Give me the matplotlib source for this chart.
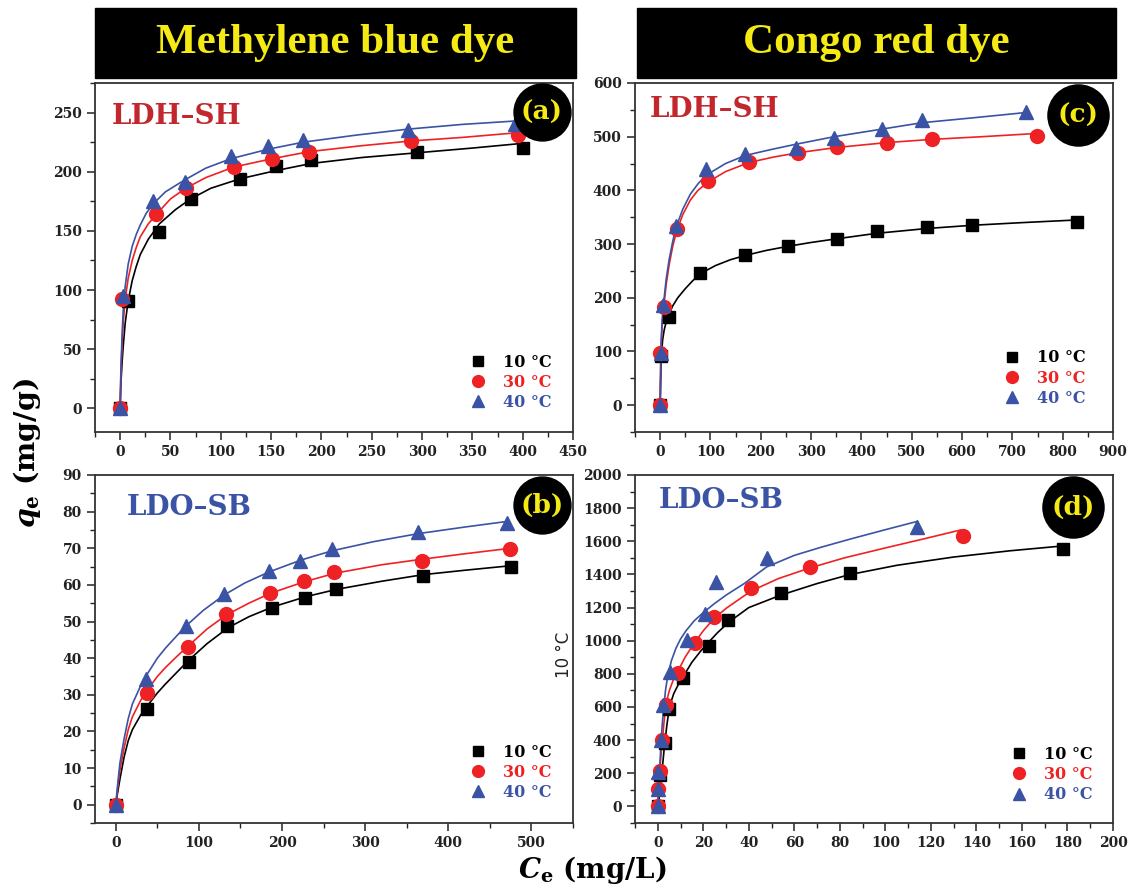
import numpy as np
import matplotlib.pyplot as plt
from matplotlib.ticker import MultipleLocator
from matplotlib.patches import Rectangle
from matplotlib.lines import Line2D

W, H = 1133, 893

temps = ["10 °C", "30 °C", "40 °C"]

# ---- (a) methylene blue, LDH-SH ----
a_x10 = [0, 8, 39, 70, 119, 155, 190, 295, 400]
a_y10 = [0, 91, 149, 177, 194, 205, 210, 217, 220]
a_x30 = [0, 2, 36, 65, 113, 151, 188, 289, 395]
a_y30 = [0, 92, 164, 186, 204, 211, 217, 226, 231]
a_x40 = [0, 3, 33, 64, 110, 147, 182, 286, 392]
a_y40 = [0, 95, 175, 191, 213, 222, 227, 235, 240]
# fitted curves
a_fx10 = [0, 0.5, 1, 2, 3, 5, 8, 12, 16, 20, 28, 39, 55, 70, 90, 119, 155, 190, 240, 295, 350, 400]
a_fy10 = [0, 15, 25, 40, 52, 72, 91, 108, 120, 130, 143, 156, 168, 177, 186, 194, 201, 207, 212, 216, 220, 224]
a_fx30 = [0, 0.5, 1, 2, 3, 5, 8, 12, 16, 20, 28, 36, 50, 65, 85, 113, 151, 188, 240, 289, 340, 395]
a_fy30 = [0, 20, 35, 56, 72, 92, 110, 125, 136, 145, 156, 164, 177, 186, 195, 204, 211, 217, 222, 226, 229, 233]
a_fx40 = [0, 0.5, 1, 2, 3, 5, 8, 12, 16, 20, 26, 33, 45, 64, 85, 110, 147, 182, 235, 286, 340, 395]
a_fy40 = [0, 24, 40, 64, 82, 103, 122, 137, 147, 155, 165, 173, 183, 193, 203, 211, 219, 225, 231, 236, 240, 243]

# ---- (c) congo red, LDH-SH ----
c_x10 = [0, 2, 18, 80, 169, 255, 352, 430, 531, 620, 829]
c_y10 = [0, 92, 165, 247, 279, 296, 310, 324, 331, 336, 341]
c_x30 = [0, 0, 8, 33, 96, 177, 273, 352, 450, 540, 748]
c_y30 = [0, 97, 182, 329, 417, 452, 469, 480, 489, 495, 502]
c_x40 = [0, 1, 5, 31, 91, 169, 270, 346, 440, 520, 727]
c_y40 = [0, 97, 187, 333, 440, 468, 479, 497, 515, 531, 546]
c_fx10 = [0, 1, 2, 3, 5, 8, 12, 17, 25, 35, 50, 65, 80, 110, 140, 170, 210, 255, 300, 352, 430, 530, 620, 720, 830]
c_fy10 = [0, 45, 80, 100, 122, 140, 155, 168, 185, 200, 217, 232, 245, 260, 271, 279, 288, 296, 303, 310, 320, 329, 335, 340, 345]
c_fx30 = [0, 1, 2, 4, 8, 12, 18, 25, 33, 45, 60, 75, 96, 130, 177, 225, 273, 352, 450, 540, 640, 748]
c_fy30 = [0, 65, 110, 150, 190, 225, 262, 296, 325, 355, 382, 400, 416, 435, 452, 462, 470, 480, 489, 495, 500, 506]
c_fx40 = [0, 1, 2, 4, 8, 12, 18, 25, 31, 45, 60, 75, 91, 130, 169, 220, 270, 346, 440, 520, 620, 727]
c_fy40 = [0, 75, 120, 160, 200, 235, 272, 305, 330, 365, 393, 412, 428, 450, 465, 476, 486, 500, 514, 526, 535, 545]

# ---- (b) methylene blue, LDO-SB ----
b_x10 = [0, 38, 88, 134, 188, 228, 265, 370, 476]
b_y10 = [0, 26, 39, 48.7, 53.6, 56.4, 58.9, 62.5, 65]
b_x30 = [0, 37, 87, 132, 186, 226, 263, 368, 474]
b_y30 = [0, 30.5, 43, 52, 57.7, 61, 63.5, 66.6, 69.8]
b_x40 = [0, 36, 84, 130, 184, 222, 260, 364, 471]
b_y40 = [0, 34.4, 48.9, 57.5, 63.9, 66.6, 69.8, 74.4, 76.8]
b_fx10 = [0, 2, 5, 10, 15, 20, 30, 38, 50, 60, 75, 88, 110, 135, 160, 189, 229, 266, 320, 370, 420, 478]
b_fy10 = [0, 3, 7, 13, 17.5, 20.5, 24.5, 27, 30.5, 33, 36.5, 39.5, 44, 48.3, 51.3, 54, 56.8, 58.8, 61, 62.8, 64, 65.3]
b_fx30 = [0, 2, 5, 10, 15, 20, 30, 37, 50, 60, 75, 87, 110, 133, 160, 186, 226, 264, 320, 368, 420, 475]
b_fy30 = [0, 4, 9.5, 15.5, 20.5, 24, 28.5, 31, 35, 37.5, 40.8, 43.3, 48, 51.8, 55, 57.7, 60.8, 63.2, 65.5, 67, 68.5, 70]
b_fx40 = [0, 2, 5, 10, 15, 20, 30, 36, 50, 60, 75, 84, 105, 130, 155, 184, 223, 260, 310, 364, 420, 470]
b_fy40 = [0, 5, 11.4, 18, 23.5, 27.5, 32.5, 35, 40, 42.8, 46.5, 48.7, 53, 57.2, 60.5, 63.5, 66.8, 69.3, 71.8, 74, 75.8, 77.3]

# ---- (d) congo red, LDO-SB ----
d_x10 = [0, 0.8, 3.2, 5.1, 11.2, 22.3, 30.8, 54.2, 84.5, 178]
d_y10 = [0, 191, 382, 587, 778, 971, 1126, 1286, 1411, 1552]
d_x30 = [0, 0, 0.8, 1.9, 3.5, 9.1, 16.3, 24.7, 41.1, 66.9, 134]
d_y30 = [0, 105, 211, 402, 613, 804, 989, 1142, 1317, 1447, 1634]
d_x40 = [0, 0.3, 0.3, 1.3, 2.4, 5.3, 12.7, 20.7, 25.8, 47.8, 114]
d_y40 = [5, 105, 207, 402, 613, 810, 1005, 1162, 1357, 1497, 1688]
d_fx10 = [0, 0.3, 0.7, 1.0, 1.5, 2, 2.9, 4, 5.1, 7, 9, 11, 15, 19, 22.3, 26, 31, 40, 54, 70, 84, 105, 130, 155, 178]
d_fy10 = [0, 25, 60, 100, 160, 230, 360, 490, 600, 680, 735, 780, 870, 940, 990, 1045, 1110, 1200, 1275, 1345, 1398, 1455, 1505, 1543, 1572]
d_fx30 = [0, 0.3, 0.6, 1.0, 1.5, 2, 2.9, 4, 5.1, 7, 9, 12, 16, 20, 24.4, 30, 41, 53, 67, 82, 100, 117, 133]
d_fy30 = [0, 80, 160, 240, 320, 400, 530, 640, 700, 770, 820, 900, 985, 1060, 1130, 1195, 1300, 1375, 1440, 1500, 1560, 1615, 1668]
d_fx40 = [0, 0.3, 0.7, 1.0, 1.5, 2, 2.5, 3.4, 4.4, 6, 8, 10, 12.4, 16, 20, 25, 30, 38, 47.8, 60, 72, 85, 100, 114]
d_fy40 = [0, 100, 200, 270, 400, 500, 580, 700, 790, 880, 955, 1010, 1060, 1120, 1170, 1225, 1275, 1345, 1445, 1515, 1565, 1615, 1670, 1720]

RED = "#ee2224"
BLUE = "#3a53a4"
cols = ["black", RED, BLUE]
marks = [("s", 9), ("o", 10), ("^", 10.5)]

plt.rcParams['font.family'] = 'DejaVu Serif'
plt.rcParams['font.weight'] = 'bold'
plt.rcParams['mathtext.fontset'] = 'custom'
plt.rcParams['mathtext.it'] = 'DejaVu Serif:italic:bold'
plt.rcParams['mathtext.rm'] = 'DejaVu Serif:bold'

fig = plt.figure(figsize=(W / 100, H / 100), dpi=100)


def box(l, t, r, b):
    return [l / W, 1 - b / H, (r - l) / W, (b - t) / H]


def panel(rect, pts, fits, xlim, ylim, xs, ys, title, tcol, tpos, tag, tagpos, tagms, legpos):
    ax = fig.add_axes(rect)
    for (fx, fy), c in zip(fits, cols):
        ax.plot(fx, fy, color=c, lw=1.2, zorder=2, solid_joinstyle="round")
    for (x, y), c, (m, ms) in zip(pts, cols, marks):
        ax.plot(x, y, ls="none", marker=m, ms=ms, color=c, zorder=3)
    ax.set_xlim(*xlim)
    ax.set_ylim(*ylim)
    ax.xaxis.set_major_locator(MultipleLocator(xs))
    ax.xaxis.set_minor_locator(MultipleLocator(xs / 2))
    ax.yaxis.set_major_locator(MultipleLocator(ys))
    ax.yaxis.set_minor_locator(MultipleLocator(ys / 2))
    ax.tick_params(which="major", direction="out", length=6, width=1.1, labelsize=10, colors="#222")
    ax.tick_params(which="minor", direction="out", length=3.5, width=1.0, colors="#222")
    for s in ax.spines.values():
        s.set_linewidth(1.3)
        s.set_color("#333")
    ax.text(tpos[0], tpos[1], title, transform=ax.transAxes, color=tcol,
            fontsize=20, ha="left", va="center")
    ax.plot([tagpos[0]], [tagpos[1]], marker="o", ms=tagms, color="black",
            transform=ax.transAxes, clip_on=False, zorder=5)
    ax.text(tagpos[0], tagpos[1], tag, transform=ax.transAxes, color="#f5ea14",
            fontsize=19, ha="center", va="center", zorder=6)
    handles = [Line2D([], [], ls="none", marker=m, ms=ms * 0.85, color=c)
               for c, (m, ms) in zip(cols, marks)]
    ax.legend(handles, temps, loc="lower right", bbox_to_anchor=legpos, frameon=False,
              labelcolor=cols, fontsize=11.5, handlelength=1, handletextpad=1.1,
              labelspacing=0.2, borderaxespad=0, borderpad=0)
    return ax


panel(box(95, 83, 573, 432),
      [(a_x10, a_y10), (a_x30, a_y30), (a_x40, a_y40)],
      [(a_fx10, a_fy10), (a_fx30, a_fy30), (a_fx40, a_fy40)],
      (-25, 450), (-20, 275), 50, 50, "LDH\u2013SH", "#c1272d", (0.036, 0.903),
      "(a)", (0.935, 0.917), 41, (0.956, 0.06))

panel(box(635, 83, 1113, 432),
      [(c_x10, c_y10), (c_x30, c_y30), (c_x40, c_y40)],
      [(c_fx10, c_fy10), (c_fx30, c_fy30), (c_fx40, c_fy40)],
      (-50, 900), (-50, 600), 100, 100, "LDH\u2013SH", "#c1272d", (0.031, 0.923),
      "(c)", (0.927, 0.908), 44, (0.944, 0.072))

panel(box(95, 475, 573, 823),
      [(b_x10, b_y10), (b_x30, b_y30), (b_x40, b_y40)],
      [(b_fx10, b_fy10), (b_fx30, b_fy30), (b_fx40, b_fy40)],
      (-25, 550), (-5, 90), 100, 10, "LDO\u2013SB", BLUE, (0.067, 0.908),
      "(b)", (0.935, 0.914), 41, (0.956, 0.063))

panel(box(635, 475, 1113, 823),
      [(d_x10, d_y10), (d_x30, d_y30), (d_x40, d_y40)],
      [(d_fx10, d_fy10), (d_fx30, d_fy30), (d_fx40, d_fy40)],
      (-10, 200), (-100, 2000), 20, 200, "LDO\u2013SB", BLUE, (0.05, 0.928),
      "(d)", (0.916, 0.908), 44, (0.958, 0.057))

# header boxes
for (l, r), label in [((95, 576), "Methylene blue dye"), ((637, 1116), "Congo red dye")]:
    fig.patches.append(Rectangle((l / W, 1 - 78 / H), (r - l) / W, 70 / H,
                                 transform=fig.transFigure, color="black"))
    fig.text((l + r) / 2 / W, 1 - 43 / H, label, color="#f5ea14", fontsize=31,
             family="Liberation Serif", ha="center", va="center")

fig.text(27 / W, 1 - 453 / H, r"$q_{\mathrm{e}}$ (mg/g)", rotation=90, fontsize=20.5,
         ha="center", va="center")
fig.text(592 / W, 1 - 870 / H, r"$C_{\mathrm{e}}$ (mg/L)", fontsize=20,
         ha="center", va="center")
fig.text(564 / W, 1 - 655 / H, "10 °C", rotation=90, fontsize=12, family="DejaVu Sans",
         weight="normal", color="#222", ha="center", va="center")

fig.savefig("out.png", dpi=100)
